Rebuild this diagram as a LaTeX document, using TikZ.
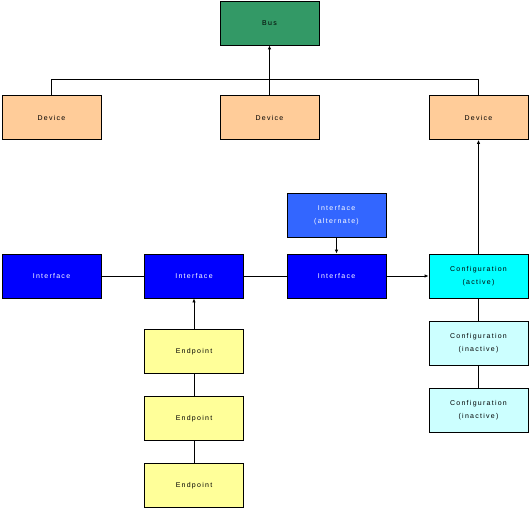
\documentclass[tikz,border=0pt]{standalone}
\usepackage{fontspec}
\setmainfont{Liberation Sans}[LetterSpace=18]
\usetikzlibrary{arrows.meta}
\definecolor{busg}{HTML}{339966}
\definecolor{devc}{HTML}{FFCC99}
\definecolor{ifc}{HTML}{0000FF}
\definecolor{altc}{HTML}{3366FF}
\definecolor{actc}{HTML}{00FFFF}
\definecolor{inac}{HTML}{CCFFFF}
\definecolor{epc}{HTML}{FFFF99}
\tikzset{
  box/.style={draw=black, line width=0.8pt, minimum width=99pt, minimum height=44pt, inner sep=0pt, align=center, font=\fontsize{7}{13}\selectfont},
  busbox/.style={box, fill=busg},
  devbox/.style={box, fill=devc},
  ifbox/.style={box, fill=ifc, text=white},
  altbox/.style={box, fill=altc, text=white},
  actbox/.style={box, fill=actc},
  inbox/.style={box, fill=inac},
  epbox/.style={box, fill=epc},
  conn/.style={line width=0.8pt},
  arr/.style={conn, -{Latex[length=4pt,width=3.5pt]}}
}
\begin{document}
\begin{tikzpicture}[x=1pt,y=-1pt]
\useasboundingbox (0,0) rectangle (531,511);
\node[busbox] (bus) at (269.5,23) {Bus};
\node[devbox] (d1) at (51.5,117.5) {Device};
\node[devbox] (d2) at (269.5,117.5) {Device};
\node[devbox] (d3) at (478.5,117.5) {Device};
\node[altbox] (alt) at (336.5,215) {Interface\\(alternate)};
\node[ifbox] (i1) at (51.5,276) {Interface};
\node[ifbox] (i2) at (194,276) {Interface};
\node[ifbox] (i3) at (336.5,276) {Interface};
\node[actbox] (ca) at (478.5,276) {Configuration\\(active)};
\node[inbox] (c1) at (478.5,343.5) {Configuration\\(inactive)};
\node[inbox] (c2) at (478.5,410) {Configuration\\(inactive)};
\node[epbox] (e1) at (194,351.5) {Endpoint};
\node[epbox] (e2) at (194,418.5) {Endpoint};
\node[epbox] (e3) at (194,485.5) {Endpoint};
\coordinate (hl) at (51.5,79);
\coordinate (hr) at (478.5,79);
\draw[conn] (d1.north) -- (hl) -- (hr) -- (d3.north);
\draw[arr] (d2.north) -- (bus.south);
\draw[arr] (ca.north) -- (d3.south);
\draw[arr] (alt.south) -- (i3.north);
\draw[conn] (i1.east) -- (i2.west);
\draw[conn] (i2.east) -- (i3.west);
\draw[arr] (i3.east) -- (ca.west);
\draw[arr] (e1.north) -- (i2.south);
\draw[conn] (e1.south) -- (e2.north);
\draw[conn] (e2.south) -- (e3.north);
\draw[conn] (ca.south) -- (c1.north);
\draw[conn] (c1.south) -- (c2.north);
\end{tikzpicture}
\end{document}
